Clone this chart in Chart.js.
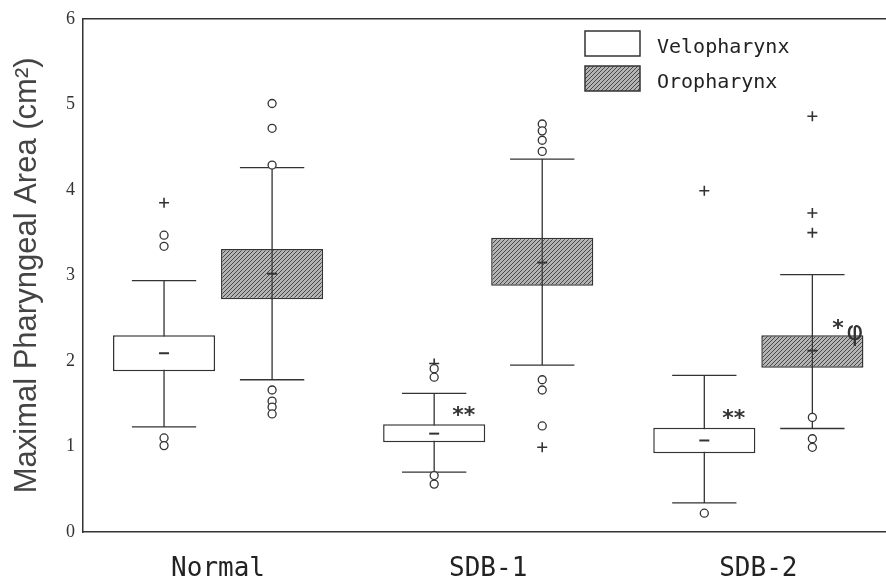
<!DOCTYPE html>
<html><head><meta charset="utf-8">
<script src="https://cdn.jsdelivr.net/npm/chart.js@4.4.1/dist/chart.umd.min.js"></script>
<style>html,body{margin:0;padding:0;background:#fff;overflow:hidden;} #wrap{width:900px;height:585px;position:relative;}</style>
</head><body><div id="wrap"><canvas id="c"></canvas></div>
<script>
// ---- data ----
const categories = ['Normal', 'SDB-1', 'SDB-2'];
const seriesNames = ['Velopharynx', 'Oropharynx'];
const yTicks = [0, 1, 2, 3, 4, 5, 6];
const yTitle = 'Maximal Pharyngeal Area (cm\u00B2)';

const veloLow = [1.23, 0.70, 0.34];
const veloQ1 = [1.88, 1.05, 0.92];
const veloMedian = [2.09, 1.15, 1.07];
const veloQ3 = [2.30, 1.26, 1.22];
const veloHigh = [2.94, 1.62, 1.83];
const veloCircles = [[3.47, 3.34, 1.10, 1.01], [1.91, 1.81, 0.66, 0.56], [0.22]];
const veloCrosses = [[3.85], [1.97], [3.99]];

const oroLow = [1.78, 1.95, 1.21];
const oroQ1 = [2.72, 2.88, 1.92];
const oroMedian = [3.02, 3.15, 2.12];
const oroQ3 = [3.31, 3.44, 2.30];
const oroHigh = [4.26, 4.36, 3.01];
const oroCircles = [[5.01, 4.72, 4.29, 1.66, 1.53, 1.46, 1.38], [4.77, 4.69, 4.58, 4.45, 1.78, 1.66, 1.24], [1.34, 1.09, 0.99]];
const oroCrosses = [[], [0.99], [4.86, 3.73, 3.50]];

const annotations = [
  { category: 'SDB-1', series: 'Velopharynx', label: '**' },
  { category: 'SDB-2', series: 'Velopharynx', label: '**' },
  { category: 'SDB-2', series: 'Oropharynx', label: '*\u03C6' }
];

// ---- rendering ----
const seriesStats = [
  { low: veloLow, q1: veloQ1, med: veloMedian, q3: veloQ3, high: veloHigh, circles: veloCircles, crosses: veloCrosses },
  { low: oroLow, q1: oroQ1, med: oroMedian, q3: oroQ3, high: oroHigh, circles: oroCircles, crosses: oroCrosses }
];
const seriesOffset = [-0.2, 0.2];
const INK = '#333';
const canvas = document.getElementById('c');
const ctx0 = canvas.getContext('2d');

function hatchPattern() {
  const t = document.createElement('canvas');
  t.width = 4; t.height = 4;
  const g = t.getContext('2d');
  g.fillStyle = '#b4b4b4'; g.fillRect(0, 0, 4, 4);
  g.strokeStyle = '#484848'; g.lineWidth = 1;
  g.beginPath();
  g.moveTo(0, 4); g.lineTo(4, 0);
  g.moveTo(-1, 1); g.lineTo(1, -1);
  g.moveTo(3, 5); g.lineTo(5, 3);
  g.stroke();
  return ctx0.createPattern(t, 'repeat');
}
const fills = ['#ffffff', hatchPattern()];
const xPos = (s, i) => i + 0.5 + seriesOffset[s];

const datasets = [];
seriesStats.forEach((st, s) => {
  datasets.push({
    type: 'bar', label: seriesNames[s],
    data: categories.map((c, i) => ({ x: xPos(s, i), y: [st.q1[i], st.q3[i]] })),
    backgroundColor: fills[s], borderColor: INK, borderWidth: 1.5, borderSkipped: false,
    grouped: false, barPercentage: 0.945, categoryPercentage: 1, order: 2
  });
});
seriesStats.forEach((st, s) => {
  const circ = [], cross = [];
  categories.forEach((c, i) => {
    st.circles[i].forEach(v => circ.push({ x: xPos(s, i), y: v }));
    st.crosses[i].forEach(v => cross.push({ x: xPos(s, i), y: v }));
  });
  datasets.push({ type: 'scatter', label: seriesNames[s] + ' outliers', data: circ, pointStyle: 'circle',
    radius: 4, backgroundColor: '#fff', borderColor: INK, borderWidth: 1.3, order: 1 });
  datasets.push({ type: 'scatter', label: seriesNames[s] + ' extremes', data: cross, pointStyle: 'cross',
    radius: 5, borderColor: INK, borderWidth: 1.6, order: 1 });
});

const boxPlugin = {
  id: 'boxplot',
  beforeDatasetsDraw(chart) {
    const { ctx, scales: { x, y } } = chart;
    ctx.save();
    ctx.strokeStyle = INK; ctx.lineWidth = 1.3;
    seriesStats.forEach((st, s) => {
      const meta = chart.getDatasetMeta(s);
      categories.forEach((c, i) => {
        const px = x.getPixelForValue(xPos(s, i));
        const half = meta.data[i].width * 0.315;
        const yl = y.getPixelForValue(st.low[i]), yh = y.getPixelForValue(st.high[i]);
        ctx.beginPath();
        ctx.moveTo(px, yl); ctx.lineTo(px, yh);
        ctx.moveTo(px - half, yl); ctx.lineTo(px + half, yl);
        ctx.moveTo(px - half, yh); ctx.lineTo(px + half, yh);
        ctx.stroke();
      });
    });
    ctx.restore();
  },
  afterDatasetsDraw(chart) {
    const { ctx, chartArea: ca, scales: { x, y } } = chart;
    ctx.save();
    ctx.strokeStyle = INK;
    seriesStats.forEach((st, s) => {
      categories.forEach((c, i) => {
        const px = x.getPixelForValue(xPos(s, i));
        if (s === 1) {
          ctx.lineWidth = 1.2;
          ctx.beginPath();
          ctx.moveTo(px, y.getPixelForValue(st.q1[i])); ctx.lineTo(px, y.getPixelForValue(st.q3[i]));
          ctx.stroke();
        }
        const ym = y.getPixelForValue(st.med[i]);
        ctx.lineWidth = 2;
        ctx.beginPath(); ctx.moveTo(px - 5, ym); ctx.lineTo(px + 5, ym); ctx.stroke();
      });
    });
    ctx.fillStyle = INK;
    ctx.textAlign = 'left'; ctx.textBaseline = 'middle';
    annotations.forEach(a => {
      const s = seriesNames.indexOf(a.series), i = categories.indexOf(a.category);
      const px = x.getPixelForValue(xPos(s, i));
      const yt = y.getPixelForValue(seriesStats[s].q3[i]);
      ctx.font = 'bold 22px "DejaVu Sans"';
      if (a.label === '**') {
        ctx.fillText(a.label, px + 18, yt - 8);
      } else {
        const star = a.label.charAt(0), rest = a.label.slice(1);
        ctx.fillText(star, px + 20, yt - 6);
        ctx.font = '26px "DejaVu Sans"';
        ctx.fillText(rest, px + 34, yt - 2);
      }
    });
    ctx.lineWidth = 1.5;
    ctx.beginPath(); ctx.moveTo(ca.left, ca.top); ctx.lineTo(ca.right, ca.top); ctx.stroke();
    const lx = 585, ly = 31, bw = 55, bh = 25, gap = 35;
    seriesNames.forEach((n, s) => {
      const top = ly + s * gap;
      ctx.fillStyle = fills[s];
      ctx.fillRect(lx, top, bw, bh);
      ctx.lineWidth = 1.5; ctx.strokeStyle = INK;
      ctx.strokeRect(lx, top, bw, bh);
      ctx.fillStyle = '#222';
      ctx.font = '20px "DejaVu Sans Mono"';
      ctx.textAlign = 'left'; ctx.textBaseline = 'middle';
      ctx.fillText(n, lx + 72, top + bh / 2 + 4);
    });
    ctx.restore();
  }
};

new Chart(canvas, {
  type: 'bar',
  data: { datasets },
  options: {
    responsive: true, maintainAspectRatio: false, animation: false, events: [],
    layout: { padding: { top: 16, right: 0, left: 0, bottom: 0 } },
    plugins: { legend: { display: false }, tooltip: { enabled: false } },
    scales: {
      x: {
        type: 'linear', min: 0, max: categories.length, offset: false,
        afterBuildTicks: sc => { sc.ticks = categories.map((c, i) => ({ value: i + 0.5 })); },
        afterFit: sc => { sc.height = 53; },
        ticks: { callback: v => categories[Math.floor(v)], font: { family: 'DejaVu Sans Mono', size: 26 },
          color: '#222', padding: 22, maxRotation: 0, autoSkip: false },
        grid: { display: false, drawTicks: false, offset: false },
        border: { display: true, color: INK, width: 1.5 }
      },
      y: {
        min: yTicks[0], max: yTicks[yTicks.length - 1],
        afterBuildTicks: sc => { sc.ticks = yTicks.map(v => ({ value: v })); },
        afterFit: sc => { sc.width = 83; },
        ticks: { font: { family: 'Liberation Serif', size: 18 }, color: '#333', padding: 8 },
        grid: { display: false, drawTicks: false },
        border: { display: true, color: INK, width: 1.5 },
        title: { display: true, text: yTitle, font: { family: 'Liberation Sans', size: 31 }, color: '#444',
          padding: { top: 9, bottom: 0 } }
      }
    }
  },
  plugins: [boxPlugin]
});
</script>
</body></html>
